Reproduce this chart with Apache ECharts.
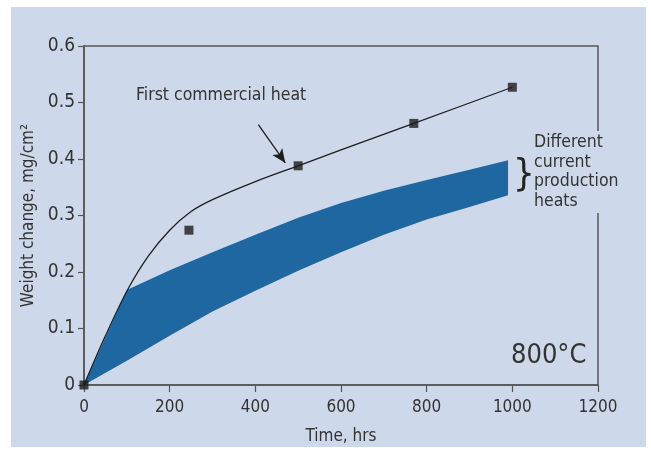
<!DOCTYPE html>
<html>
<head>
<meta charset="utf-8">
<script src="https://cdn.jsdelivr.net/npm/echarts@6/dist/echarts.min.js"></script>
<style>
    html, body { margin: 0; padding: 0; background: #fff; }
    #bg { position: absolute; left: 11px; top: 7px; width: 635px; height: 440px; background: #cdd9ea; }
    #chart { position: absolute; left: 0; top: 0; width: 651px; height: 454px; }
</style>
</head>
<body>
<div id="bg"></div>
<div id="chart"></div>
<script>
const FONT = '"Liberation Sans Narrow", "DejaVu Sans Condensed", sans-serif'
const BG = '#cdd9ea'
const INK = '#333'

// first commercial heat: measured points and drawn curve
const heatPoints = [[0, 0], [245, 0.274], [500, 0.388], [770, 0.463], [1000, 0.527]]
const heatCurve = [
    [0, 0], [50, 0.087], [100, 0.166], [150, 0.228], [200, 0.274], [250, 0.307],
    [300, 0.328], [400, 0.36], [500, 0.388], [600, 0.416], [770, 0.463], [1000, 0.527]
]

// band of current production heats
const bandTime = [0, 100, 200, 300, 400, 500, 600, 700, 800, 900, 990]
const bandLower = [0, 0.043, 0.087, 0.13, 0.167, 0.202, 0.235, 0.266, 0.293, 0.315, 0.336]
const bandUpper = [0, 0.168, 0.203, 0.235, 0.266, 0.296, 0.322, 0.344, 0.363, 0.381, 0.398]

const xTicks = [0, 200, 400, 600, 800, 1000, 1200]
const yTicks = [0, 0.1, 0.2, 0.3, 0.4, 0.5, 0.6]

const chart = echarts.init(document.getElementById('chart'))

function renderBand(params, api) {
    const upper = bandTime.map((t, i) => api.coord([t, bandUpper[i]]))
    const lower = bandTime.map((t, i) => api.coord([t, bandLower[i]])).reverse()
    return {
        type: 'polygon',
        shape: { points: upper.concat(lower) },
        style: { fill: '#1f67a0' }
    }
}

chart.setOption({
    animation: false,
    textStyle: { fontFamily: FONT },
    grid: {
        left: 84, top: 46, right: 53, bottom: 69,
        show: true, borderColor: '#555', borderWidth: 1.5
    },
    xAxis: {
        type: 'value',
        min: xTicks[0], max: xTicks[xTicks.length - 1], interval: 200,
        name: 'Time, hrs', nameLocation: 'middle', nameGap: 43,
        nameTextStyle: { fontSize: 17, color: INK, fontFamily: FONT },
        axisLine: { show: true, lineStyle: { color: '#555', width: 1.5 } },
        axisTick: { show: true, length: 7, lineStyle: { color: '#555', width: 1.2 } },
        axisLabel: { fontSize: 17, color: INK, margin: 14, fontFamily: FONT, formatter: v => String(v) },
        splitLine: { show: false }
    },
    yAxis: {
        type: 'value',
        min: yTicks[0], max: yTicks[yTicks.length - 1], interval: 0.1,
        name: 'Weight change, mg/cm²', nameLocation: 'middle', nameGap: 47,
        nameTextStyle: { fontSize: 17, color: INK, fontFamily: FONT },
        axisLine: { show: true, lineStyle: { color: '#555', width: 1.5 } },
        axisTick: { show: true, length: 6, lineStyle: { color: '#555', width: 1.2 } },
        axisLabel: { fontSize: 19, color: INK, margin: 9, fontFamily: FONT },
        splitLine: { show: false }
    },
    series: [
        {
            type: 'custom',
            data: [0],
            renderItem: renderBand,
            silent: true,
            z: 1
        },
        {
            type: 'line',
            data: heatCurve,
            smooth: 0.3,
            symbol: 'none',
            lineStyle: { color: '#1e1e1e', width: 1.3 },
            z: 3,
            markLine: {
                silent: true,
                symbol: ['none', 'arrow'],
                symbolSize: [9, 14],
                label: { show: false },
                lineStyle: { color: '#1e1e1e', width: 1.3, type: 'solid' },
                data: [[{ coord: [407, 0.461] }, { coord: [470, 0.393] }]]
            }
        },
        {
            type: 'scatter',
            data: heatPoints,
            symbol: 'rect',
            symbolSize: 9,
            itemStyle: { color: '#1c1a1b' },
            z: 4
        }
    ],
    graphic: [
        {
            type: 'text', left: 136, top: 86, z: 10,
            style: { text: 'First commercial heat', fontSize: 17.5, fill: INK, fontFamily: FONT }
        },
        {
            type: 'text', left: 530, top: 131, z: 10,
            style: {
                text: 'Different\ncurrent\nproduction\nheats',
                fontSize: 17.5, lineHeight: 19.5, fill: INK, fontFamily: FONT,
                backgroundColor: BG, padding: [2, 4, 2, 4]
            }
        },
        {
            type: 'text', left: 513, top: 156, z: 10,
            style: { text: '}', fontSize: 38, fill: '#222', fontFamily: FONT }
        },
        {
            type: 'text', left: 511, top: 342, z: 10,
            style: { text: '800°C', fontSize: 27, fill: INK, fontFamily: FONT }
        }
    ]
})
</script>
</body>
</html>
